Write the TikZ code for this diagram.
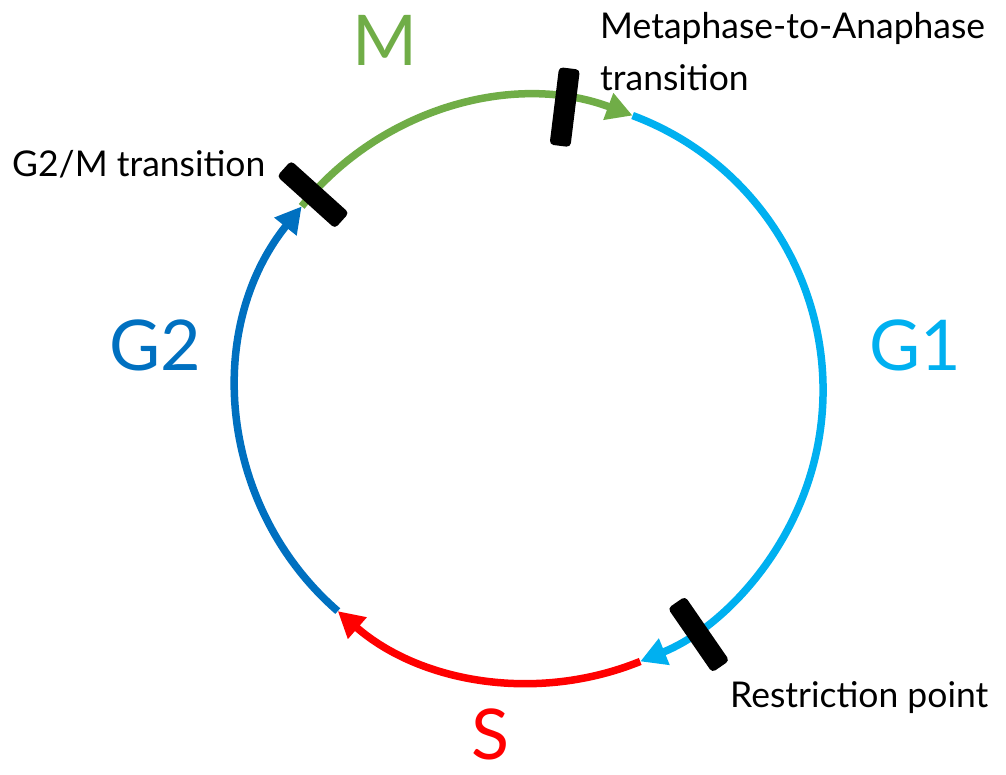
\documentclass[tikz,border=0pt]{standalone}
\usepackage{fontspec}
\setmainfont{Lato}
\usetikzlibrary{arrows.meta}
\usetikzlibrary{calc}

\definecolor{mgreen}{HTML}{70AD47}
\definecolor{gonecol}{HTML}{00B0F0}
\definecolor{scol}{HTML}{FF0000}
\definecolor{gtwocol}{HTML}{0070C0}

\begin{document}
\begin{tikzpicture}[x=1pt,y=1pt,
  phase/.style={line width=7.5pt,-{Triangle[length=26pt,width=27pt]}},
  checkbar/.style={fill=black,rectangle,rounded corners=4pt,minimum width=78pt,minimum height=21pt,inner sep=0pt},
  biglabel/.style={font=\fontsize{70}{70}\selectfont,inner sep=0pt},
  smalllabel/.style={font=\fontsize{35.5}{52}\selectfont,inner sep=0pt}]
\useasboundingbox (0,0) rectangle (1006,775);
\coordinate (c) at (530,385);
% transition points on the cycle
\coordinate (g2m) at ($(c)+(141.2:293)$);
\coordinate (mgone) at ($(c)+(69.5:293)$);
\coordinate (gones) at ($(c)+(-67.9:293)$);
\coordinate (sgtwo) at ($(c)+(-131:293)$);
% phases
\draw[phase,mgreen] (g2m) arc[start angle=141.2,end angle=69.5,radius=293];
\draw[phase,gonecol] (mgone) arc[start angle=69.5,end angle=-67.9,radius=293];
\draw[phase,scol] (gones) arc[start angle=-67.9,end angle=-131,radius=293];
\draw[phase,gtwocol] (sgtwo) arc[start angle=229,end angle=141.2,radius=293];
% checkpoints
\node[checkbar,rotate=138] (chkgtwom) at ($(c)+(138:292)$) {};
\node[checkbar,rotate=83] (chkmeta) at ($(c)+(83:285)$) {};
\node[checkbar,rotate=-55.4] (chkrest) at ($(c)+(-55.4:297)$) {};
% labels
\node[biglabel,text=mgreen] (mlab) at (385,735) {M};
\node[biglabel,text=gonecol] (gonelab) at (915,430) {G1};
\node[biglabel,text=gtwocol] (gtwolab) at (155,430) {G2};
\node[biglabel,text=scol] (slab) at (490,41) {S};
\node[smalllabel,anchor=base west] (g2mlab) at (12,598) {G2/M transition};
\node[smalllabel,anchor=north west,align=left] (metalab) at (600,763) {Metaphase-to-Anaphase\\transition};
\node[smalllabel,anchor=base west] (restlab) at (730,67) {Restriction point};
\end{tikzpicture}
\end{document}
